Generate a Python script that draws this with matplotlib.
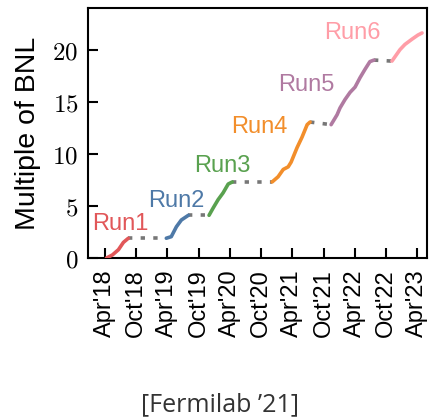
import numpy as np
import matplotlib
matplotlib.use('Agg')
import matplotlib.pyplot as plt
import matplotlib.dates as mdates

plt.rcParams['mathtext.fontset'] = 'cm'

# accumulated data per run (multiple of BNL)
run_names = ['Run1', 'Run2', 'Run3', 'Run4', 'Run5', 'Run6']
run_colors = ['#e15759', '#4e79a7', '#59a14f', '#f28e2b', '#b07aa1', '#ff9da7']

run1_dates = ['2018-04-10', '2018-05-15', '2018-06-19', '2018-07-18', '2018-08-16']
run1_vals = [0.0, 0.3, 0.8, 1.5, 1.9]
run2_dates = ['2019-03-26', '2019-04-24', '2019-05-24', '2019-06-22', '2019-08-02']
run2_vals = [1.9, 2.05, 3.0, 3.65, 4.1]
run3_dates = ['2019-12-01', '2019-12-25', '2020-01-23', '2020-02-21', '2020-03-22', '2020-04-15']
run3_vals = [4.1, 4.8, 5.6, 6.25, 7.1, 7.3]
run4_dates = ['2020-12-04', '2021-01-08', '2021-02-07', '2021-03-08', '2021-03-25',
              '2021-04-29', '2021-05-28', '2021-06-27', '2021-07-14']
run4_vals = [7.3, 7.8, 8.5, 8.75, 9.2, 10.6, 11.6, 12.8, 13.05]
run5_dates = ['2021-11-14', '2021-12-19', '2022-01-05', '2022-02-03', '2022-03-05',
              '2022-04-03', '2022-05-02', '2022-05-31', '2022-06-29', '2022-07-23']
run5_vals = [12.8, 13.75, 14.4, 15.2, 15.9, 16.4, 17.3, 18.1, 18.85, 19.0]
run6_dates = ['2022-11-05', '2022-12-22', '2023-01-20', '2023-03-02', '2023-04-06', '2023-04-30']
run6_vals = [18.9, 20.0, 20.5, 21.0, 21.4, 21.6]

run_dates = [run1_dates, run2_dates, run3_dates, run4_dates, run5_dates, run6_dates]
run_vals = [run1_vals, run2_vals, run3_vals, run4_vals, run5_vals, run6_vals]

# label anchors (centre x, baseline y)
label_dates = ['2018-06-30', '2019-05-26', '2020-02-18', '2020-09-19', '2021-06-21', '2022-03-19']
label_vals = [2.7, 4.9, 8.27, 12.0, 16.0, 21.05]

tick_dates = ['2018-04-01', '2018-10-01', '2019-04-01', '2019-10-01', '2020-04-01', '2020-10-01',
              '2021-04-01', '2021-10-01', '2022-04-01', '2022-10-01', '2023-04-01']
tick_labels = ["Apr'18", "Oct'18", "Apr'19", "Oct'19", "Apr'20", "Oct'20",
               "Apr'21", "Oct'21", "Apr'22", "Oct'22", "Apr'23"]

to_num = lambda ds: mdates.date2num(np.array(ds, dtype='datetime64[D]'))

fig = plt.figure(figsize=(4.3, 4.19), dpi=100)
ax = fig.add_axes([0.2047, 0.3842, 0.7883, 0.5968])

# gray dotted gaps between runs
for i in range(len(run_dates) - 1):
    xs = to_num([run_dates[i][-1], run_dates[i + 1][0]])
    ys = [run_vals[i][-1], run_vals[i + 1][0]]
    ax.plot(xs, ys, color='#777777', lw=2.6, linestyle=(0, (1.2, 2.3)),
            solid_capstyle='butt', dash_capstyle='butt', zorder=2)

for name, col, ds, vs, ld, lv in zip(run_names, run_colors, run_dates, run_vals,
                                     label_dates, label_vals):
    ax.plot(to_num(ds), vs, color=col, lw=2.6, solid_capstyle='round', zorder=3)
    ax.text(to_num([ld])[0], lv, name, color=col, fontsize=17, ha='center',
            va='baseline', family='Liberation Sans')

ax.set_xlim(to_num(['2017-12-23'])[0], to_num(['2023-05-29'])[0])
ax.set_ylim(0, 24)

ax.set_xticks(to_num(tick_dates))
ax.set_xticklabels(tick_labels, rotation=90, fontsize=17, family='Liberation Sans')
ax.set_yticks([0, 5, 10, 15, 20])
ax.set_yticklabels(['$0$', '$5$', '$10$', '$15$', '$20$'], fontsize=18)
ax.tick_params(direction='in', length=7, width=1.5, pad=7)
ax.tick_params(axis='x', pad=8)
for sp in ax.spines.values():
    sp.set_linewidth(1.5)

ax.set_ylabel('Multiple of BNL', fontsize=20.5, family='Liberation Sans', labelpad=8)

fig.text(0.512, 0.033, "[Fermilab \u201921]", fontsize=18, family='Open Sans',
         ha='center', va='center', color='#333333')

fig.savefig('out.png', dpi=100)
